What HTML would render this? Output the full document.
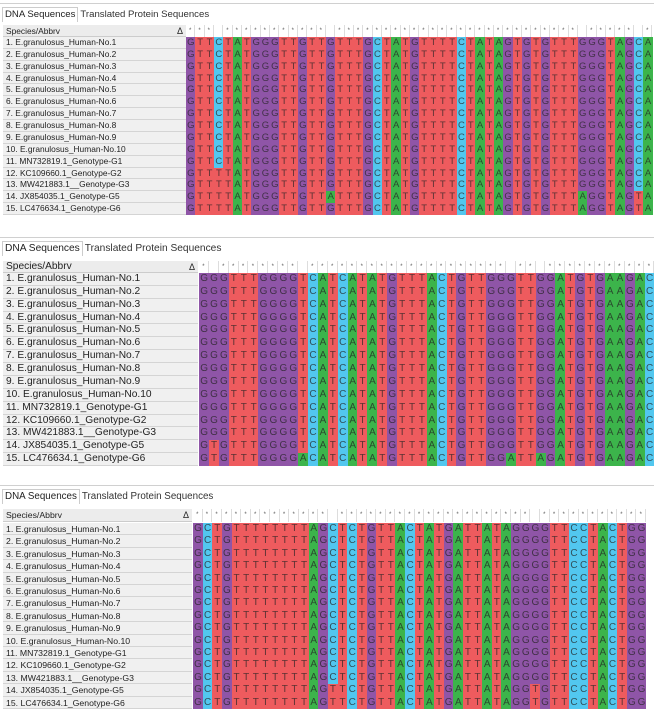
<!DOCTYPE html>
<html><head><meta charset="utf-8">
<style>
body{margin:0;width:654px;height:713px;background:#fff;position:relative;overflow:hidden;font-family:"Liberation Sans",sans-serif;}
.tab{position:absolute;color:#222;white-space:nowrap;}
.tab b{font-weight:normal;border:1px solid #ccc;border-bottom:none;background:#fff;padding:1px 2px 2px 2px;}
.tab span{color:#333;margin-left:2px;}
.lab{position:absolute;background:#f0f0f0;border-bottom:1px solid #d4d4d4;color:#222;white-space:nowrap;box-sizing:border-box;padding-left:3px;overflow:hidden;}
.hdr{position:absolute;background:#ececec;border-bottom:1px solid #ccc;color:#222;white-space:nowrap;box-sizing:border-box;padding-left:3px;}
.c{position:absolute;text-align:center;box-sizing:border-box;color:rgba(35,35,35,0.72);}
.G{background:#8f55a7}
.T{background:#ee5b5e}
.C{background:#52c7ef}
.A{background:#3cb44b}
.st{position:absolute;font-size:6px;color:#555;text-align:center;background:#fff;border-right:1px solid #ddd;box-sizing:border-box;}
.line{position:absolute;left:0;width:654px;height:1px;background:#d0d0d0;}
</style></head><body>
<div class="line" style="top:3px"></div>
<div class="line" style="top:237px"></div>
<div class="line" style="top:485px"></div>

<div class="tab" style="left:2px;top:9px;font-size:9.6px"><b>DNA Sequences</b><span>Translated Protein Sequences</span></div>
<div class="tab" style="left:2px;top:243px;font-size:10.2px"><b>DNA Sequences</b><span>Translated Protein Sequences</span></div>
<div class="tab" style="left:2px;top:491px;font-size:9.8px"><b>DNA Sequences</b><span>Translated Protein Sequences</span></div>

<div id="p0"></div><div id="p1"></div><div id="p2"></div>

<script>
var labels=["1. E.granulosus_Human-No.1","2. E.granulosus_Human-No.2","3. E.granulosus_Human-No.3","4. E.granulosus_Human-No.4","5. E.granulosus_Human-No.5","6. E.granulosus_Human-No.6","7. E.granulosus_Human-No.7","8. E.granulosus_Human-No.8","9. E.granulosus_Human-No.9","10. E.granulosus_Human-No.10","11. MN732819.1_Genotype-G1","12. KC109660.1_Genotype-G2","13. MW421883.1__Genotype-G3","14. JX854035.1_Genotype-G5","15. LC476634.1_Genotype-G6"];
function mk(base,muts){var s=[];for(var i=0;i<15;i++){var a=base.split('');(muts[i]||[]).forEach(function(m){a[m[0]-1]=m[1];});s.push(a.join(''));}return s;}
var b1="GTTCTATGGGTTGTTGTTTGCTATGTTTTCTATAGTGTGTTTGGGTAGCA";
var s1=mk(b1,{11:[[4,'T']],12:[[4,'T']],13:[[4,'T'],[16,'A'],[43,'A'],[49,'T']],14:[[4,'T'],[43,'A'],[49,'T']]});
var b2="GGGTTTGGGGTCATCATATGTTTACTGTTGGGTTGGATGTGAAGAC";
var s2=mk(b2,{13:[[2,'T']],14:[[2,'T'],[11,'A'],[32,'A'],[35,'A']]});
var b3="GCTGTTTTTTTTAGCTCTGTTACTATGATTATAGGGGTTCCTACTGG";
var s3=mk(b3,{13:[[15,'T'],[36,'T']],14:[[15,'T'],[36,'T']]});
var P=[
 {id:'p0',hy:25,hh:12,ry:37,rh:11.87,lw:183,sx:186,cw:9.33,fs:9.5,ls:8.4,seq:s1},
 {id:'p1',hy:261,hh:12,ry:273,rh:12.87,lw:195,sx:199,cw:9.9,fs:10,ls:10.2,seq:s2},
 {id:'p2',hy:509,hh:13,ry:523,rh:12.4,lw:189,sx:193,cw:9.64,fs:10,ls:8.7,seq:s3}
];
P.forEach(function(p){
 var h='';
 h+='<div class="hdr" style="left:3px;top:'+p.hy+'px;width:'+p.lw+'px;height:'+p.hh+'px;font-size:'+p.ls+'px;line-height:'+p.hh+'px">Species/Abbrv<span style="position:absolute;right:3px;font-size:9px">&#916;</span></div>';
 var n=p.seq[0].length;
 for(var j=0;j<n;j++){
  var cons=true;for(var i=1;i<15;i++)if(p.seq[i][j]!=p.seq[0][j])cons=false;
  h+='<div class="st" style="left:'+(p.sx+j*p.cw).toFixed(2)+'px;top:'+p.hy+'px;width:'+p.cw.toFixed(2)+'px;height:'+p.hh+'px;line-height:'+p.hh+'px">'+(cons?'*':'')+'</div>';
 }
 for(var i=0;i<15;i++){
  var y=p.ry+i*p.rh;
  h+='<div class="lab" style="left:3px;top:'+y.toFixed(2)+'px;width:'+p.lw+'px;height:'+p.rh.toFixed(2)+'px;font-size:'+p.ls+'px;line-height:'+p.rh.toFixed(2)+'px">'+labels[i]+'</div>';
  for(var j=0;j<n;j++){
   var ch=p.seq[i][j];
   h+='<div class="c '+ch+'" style="left:'+(p.sx+j*p.cw).toFixed(2)+'px;top:'+y.toFixed(2)+'px;width:'+(p.cw+0.4).toFixed(2)+'px;height:'+(p.rh+0.4).toFixed(2)+'px;font-size:'+p.fs+'px;line-height:'+p.rh.toFixed(2)+'px">'+ch+'</div>';
  }
 }
 document.getElementById(p.id).innerHTML=h;
});
</script>
</body></html>
